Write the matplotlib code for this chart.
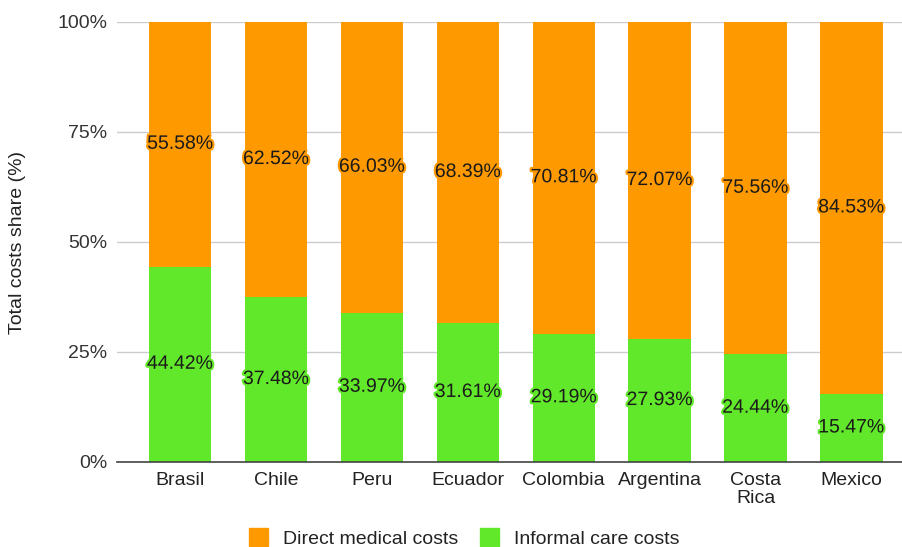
import numpy as np
import matplotlib
matplotlib.use('Agg')
import matplotlib.pyplot as plt
import matplotlib.patheffects as pe
from matplotlib.patches import Patch

plt.rcParams['font.family'] = ['Liberation Sans', 'DejaVu Sans']

paesi = ['Brasil', 'Chile', 'Peru', 'Ecuador', 'Colombia', 'Argentina', 'Costa\nRica', 'Mexico']
informali = [44.42, 37.48, 33.97, 31.61, 29.19, 27.93, 24.44, 15.47]
diretti = [55.58, 62.52, 66.03, 68.39, 70.81, 72.07, 75.56, 84.53]

arancio = '#FF9900'
verde = '#62E82A'
fs = 14

fig = plt.figure(figsize=(9.03, 5.47), dpi=100)
ax = fig.add_axes([117/903, 1-462/547, (903-117)/903, 440/547])

x = np.arange(len(paesi))
w = 0.65
ax.bar(x, informali, w, color=verde, zorder=2)
ax.bar(x, diretti, w, bottom=informali, color=arancio, zorder=2)

# etichette al centro di ogni segmento
for i in range(len(paesi)):
    t1 = ax.text(x[i], informali[i]/2, '{:.2f}%'.format(informali[i]), ha='center', va='center',
                 fontsize=fs, color='#1a1a1a', zorder=3)
    t1.set_path_effects([pe.withStroke(linewidth=3, foreground=verde)])
    t2 = ax.text(x[i], informali[i] + diretti[i]/2, '{:.2f}%'.format(diretti[i]), ha='center', va='center',
                 fontsize=fs, color='#1a1a1a', zorder=3)
    t2.set_path_effects([pe.withStroke(linewidth=3, foreground=arancio)])

ax.set_xlim(-0.66, 7 + (903-851.5)/95.7)
ax.set_ylim(0, 100)
ax.set_yticks([0, 25, 50, 75, 100])
ax.set_yticklabels(['0%', '25%', '50%', '75%', '100%'], fontsize=fs, color='#333333')
ax.set_xticks(x)
ax.set_xticklabels(paesi, fontsize=fs, color='#222222', linespacing=1.1)
ax.tick_params(length=0, pad=7)
ax.tick_params(axis='y', pad=7)
ax.grid(axis='y', color='#cccccc', linewidth=1, zorder=0)
for s in ['top', 'right', 'left']:
    ax.spines[s].set_visible(False)
ax.spines['bottom'].set_color('#444444')
ax.spines['bottom'].set_linewidth(1.2)
ax.spines['bottom'].set_zorder(4)

fig.text(18/903, 1-242/547, 'Total costs share (%)', rotation=90, ha='center', va='center',
         fontsize=fs, color='#222222')

handles = [Patch(color=arancio, label='Direct medical costs'),
           Patch(color=verde, label='Informal care costs')]
fig.legend(handles=handles, loc='center', bbox_to_anchor=(464/903, 1-538/547), ncol=2,
           frameon=False, fontsize=fs, handlelength=1.0, handleheight=1.0,
           columnspacing=1.1, handletextpad=0.75, labelcolor='#222222')

fig.savefig('out.png', dpi=100)
